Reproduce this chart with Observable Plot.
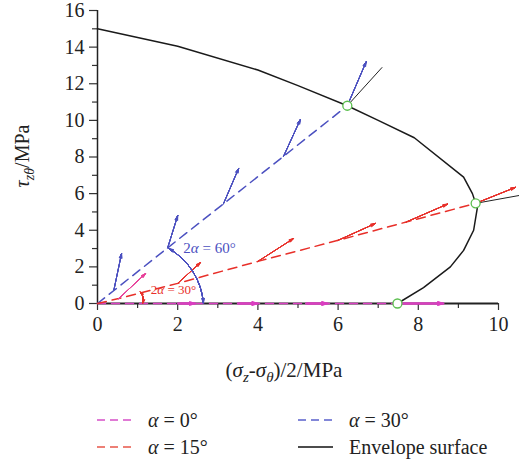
<!DOCTYPE html>
<html><head><meta charset="utf-8">
<script src="https://cdn.jsdelivr.net/npm/d3@7"></script>
<script src="https://cdn.jsdelivr.net/npm/@observablehq/plot@0.6"></script>
<style>
body{margin:0;background:#fff;font-family:"Liberation Serif",serif;}
#chart svg, #chart svg text{font-family:"Liberation Serif",serif !important;}
#legend{position:relative;height:66px;font-size:20px;color:#222;}
.row{position:absolute;height:25px;display:flex;align-items:center;}
.row svg{margin-right:16px;}
</style></head>
<body><div id="chart"></div><div id="legend"></div>
<script>
// Envelope surface
const envX = [0, 2, 4, 5, 6.23, 7.0, 7.9, 9.13, 9.35, 9.43, 9.47, 9.38, 9.13, 8.8, 8.13, 7.48];
const envY = [15.0, 14.05, 12.75, 11.9, 10.8, 10.0, 9.05, 6.9, 6.0, 5.47, 5.2, 4.0, 2.9, 2.0, 0.87, 0];
// alpha = 30 deg path (blue)
const blueX = [0, 0.45, 1.75, 3.14, 4.64, 6.23];
const blueY = [0, 0.78, 3.04, 5.44, 8.04, 10.8];
// alpha = 15 deg path (red)
const redX = [0, 0.53, 2.0, 4.0, 6.0, 7.7, 9.43];
const redY = [0, 0.27, 1.1, 2.3, 3.45, 4.45, 5.47];
// alpha = 0 path (magenta)
const magX = [0, 7.48];
const magY = [0, 0];
// direction arrows (base -> tip)
const blueArrX1 = [0.41, 1.75, 3.14, 4.64, 6.23];
const blueArrY1 = [0.75, 3.04, 5.44, 8.04, 10.8];
const blueArrX2 = [0.6, 2.0, 3.52, 5.06, 6.7];
const blueArrY2 = [2.73, 4.8, 7.38, 10.05, 13.2];
const redArrX1 = [2.0, 4.0, 6.0, 7.7, 9.43];
const redArrY1 = [1.1, 2.3, 3.45, 4.45, 5.47];
const redArrX2 = [2.57, 4.89, 6.93, 8.73, 10.42];
const redArrY2 = [2.24, 3.55, 4.37, 5.43, 6.34];
const pinkArrX1 = [0.53], pinkArrY1 = [0.27], pinkArrX2 = [1.2], pinkArrY2 = [1.64];
const magArrX1 = [2.0, 3.5, 5.2, 7.5];
const magArrX2 = [2.44, 4.0, 5.74, 8.63];
// normal lines at yield points
const normX1 = [6.23, 9.43], normY1 = [10.8, 5.47], normX2 = [7.1, 10.52], normY2 = [12.9, 5.9];
// yield points
const yieldX = [6.23, 9.43, 7.48];
const yieldY = [10.8, 5.47, 0];
// angle arcs
const arcBlue = {x1: 1.78, y1: 3.0, x2: 2.64, y2: 0.03};
const arcRed = {x1: 1.07, y1: 0.62, x2: 1.13, y2: 0.03};
const annX = [2.14, 1.33], annY = [3.0, 0.72], annText = ["2α = 60°", "2α = 30°"];
// ticks
const xTicks = [0, 2, 4, 6, 8, 10], xMinor = [1, 3, 5, 7, 9];
const yTicks = [0, 2, 4, 6, 8, 10, 12, 14, 16], yMinor = [1, 3, 5, 7, 9, 11, 13, 15];
// legend
const legLabels = ["0°", "15°", "30°", "Envelope surface"];

const BLUE = "#4b50c0", RED = "#e8302a", MAG = "#d93fc0", PINK = "#e8409a", GREEN = "#5cbf4f";
const SERIF = "Liberation Serif";
const pts = (X, Y) => X.map((x, i) => ({x, y: Y[i]}));
const segs = (X1, Y1, X2, Y2) => X1.map((x, i) => ({x1: x, y1: Y1[i], x2: X2[i], y2: Y2[i]}));
const arrowOpts = {x1: "x1", y1: "y1", x2: "x2", y2: "y2", strokeWidth: 1, headLength: 7};
// stacked arrowheads with decreasing angles give a filled-looking head
const filledArrows = (data, opts) => [34, 26, 18, 10, 4].map(a => Plot.arrow(data, {...arrowOpts, headAngle: a, ...opts}));
const axisText = {fontFamily: SERIF, fontSize: 20, fill: "#222"};

const chart = Plot.plot({
  width: 519, height: 395,
  marginLeft: 97, marginRight: 21, marginTop: 10, marginBottom: 92,
  x: {domain: [0, 10], label: null},
  y: {domain: [0, 16], label: null},
  style: {fontFamily: "Liberation Serif, serif", fontSize: "20px", color: "#222", background: "white"},
  marks: [
    Plot.axisX(xTicks, {tickSize: 7, tickPadding: 6, label: null, stroke: "#333", strokeWidth: 1.2, ...axisText}),
    Plot.axisX(xMinor, {tickSize: 5, tickFormat: () => "", label: null, stroke: "#333", strokeWidth: 1.2}),
    Plot.axisY(yTicks, {tickSize: 8, tickPadding: 5, label: null, stroke: "#333", strokeWidth: 1.2, ...axisText}),
    Plot.axisY(yMinor, {tickSize: 5, tickFormat: () => "", label: null, stroke: "#333", strokeWidth: 1.2}),
    Plot.ruleX([0], {y1: 0, y2: 16, stroke: "#222", strokeWidth: 1.5}),
    Plot.ruleY([0], {x1: 0, x2: 10, stroke: "#222", strokeWidth: 2.2}),
    Plot.line(pts(magX, magY), {x: "x", y: "y", stroke: MAG, strokeWidth: 1.5, strokeDasharray: "8,6"}),
    ...filledArrows(magArrX1.map((x, i) => ({x1: x, y1: 0, x2: magArrX2[i], y2: 0})), {stroke: MAG, strokeWidth: 1.3}),
    Plot.line(pts(envX, envY), {x: "x", y: "y", stroke: "#1a1a1a", strokeWidth: 1.5}),
    Plot.link(segs(normX1, normY1, normX2, normY2), {x1: "x1", y1: "y1", x2: "x2", y2: "y2", stroke: "#222", strokeWidth: 1}),
    Plot.line(pts(blueX, blueY), {x: "x", y: "y", stroke: BLUE, strokeWidth: 1.5, strokeDasharray: "9,6"}),
    Plot.line(pts(redX, redY), {x: "x", y: "y", stroke: RED, strokeWidth: 1.5, strokeDasharray: "9,6"}),
    ...filledArrows(segs(blueArrX1, blueArrY1, blueArrX2, blueArrY2), {stroke: BLUE}),
    ...filledArrows(segs(redArrX1, redArrY1, redArrX2, redArrY2), {stroke: RED}),
    ...filledArrows(segs(pinkArrX1, pinkArrY1, pinkArrX2, pinkArrY2), {stroke: PINK}),
    ...filledArrows([arcBlue], {stroke: BLUE, bend: 28}),
    ...filledArrows([{x1: arcBlue.x2, y1: arcBlue.y2, x2: arcBlue.x1, y2: arcBlue.y1}], {stroke: BLUE, bend: -28}),
    ...filledArrows([arcRed], {stroke: RED, bend: 30, headLength: 5}),
    ...filledArrows([{x1: arcRed.x2, y1: arcRed.y2, x2: arcRed.x1, y2: arcRed.y1}], {stroke: RED, bend: -30, headLength: 5}),
    Plot.dot(pts(yieldX, yieldY), {x: "x", y: "y", r: 4.5, stroke: GREEN, strokeWidth: 1.3, fill: "white"}),
    Plot.text([0], {x: annX[0], y: annY[0], text: [annText[0]], fill: BLUE, fontSize: 15, fontFamily: SERIF, textAnchor: "start"}),
    Plot.text([0], {x: annX[1], y: annY[1], text: [annText[1]], fill: RED, fontSize: 13, fontFamily: SERIF, textAnchor: "start"})
  ]
});
document.getElementById("chart").appendChild(chart);

const svg = d3.select(chart);
// italicize alpha in annotations
svg.selectAll("text").each(function() {
  const t = d3.select(this);
  if (this.textContent.includes("α") && this.childElementCount === 0) {
    const s = this.textContent;
    t.text(null);
    s.split("α").forEach((part, i) => {
      if (i > 0) t.append("tspan").attr("font-style", "italic").text("α");
      t.append("tspan").text(part);
    });
  }
});
// y axis title
const yl = svg.append("text").attr("transform", "translate(29,156) rotate(-90)")
  .attr("text-anchor", "middle").attr("font-size", 20).attr("fill", "#222");
yl.append("tspan").attr("font-style", "italic").text("τ");
yl.append("tspan").attr("font-style", "italic").attr("font-size", 14).attr("dy", 5).text("zθ");
yl.append("tspan").attr("dy", -5).text("/MPa");
// x axis title
const xl = svg.append("text").attr("x", 284).attr("y", 377)
  .attr("text-anchor", "middle").attr("font-size", 21).attr("fill", "#222");
xl.append("tspan").text("(");
xl.append("tspan").attr("font-style", "italic").text("σ");
xl.append("tspan").attr("font-style", "italic").attr("font-size", 15).attr("dy", 5).text("z");
xl.append("tspan").attr("dy", -5).text("-");
xl.append("tspan").attr("font-style", "italic").text("σ");
xl.append("tspan").attr("font-style", "italic").attr("font-size", 15).attr("dy", 5).text("θ");
xl.append("tspan").attr("dy", -5).text(")/2/MPa");
// force serif face on every text node
svg.selectAll("text, tspan").attr("font-family", SERIF).style("font-family", "'Liberation Serif', 'Times New Roman', serif", "important");

// legend
const legendItems = [
  {label: legLabels[0], color: "#d64fc8", dash: true, left: 97, top: 12.5},
  {label: legLabels[1], color: "#e8574a", dash: true, left: 97, top: 39.5},
  {label: legLabels[2], color: "#5a60cc", dash: true, left: 298, top: 12.5},
  {label: legLabels[3], color: "#111", dash: false, left: 298, top: 39.5}
];
const lg = document.getElementById("legend");
legendItems.forEach(it => {
  const row = document.createElement("div");
  row.className = "row";
  row.style.left = it.left + "px";
  row.style.top = it.top + "px";
  row.innerHTML = `<svg width="35" height="6"><line x1="0" x2="35" y1="3" y2="3" stroke="${it.color}" stroke-width="1.6" ${it.dash ? 'stroke-dasharray="8,5"' : ''}/></svg>`;
  const tx = document.createElement("span");
  if (it.dash) tx.innerHTML = "<i>α</i> = " + it.label; else tx.textContent = it.label;
  row.appendChild(tx);
  lg.appendChild(row);
});
</script></body></html>
